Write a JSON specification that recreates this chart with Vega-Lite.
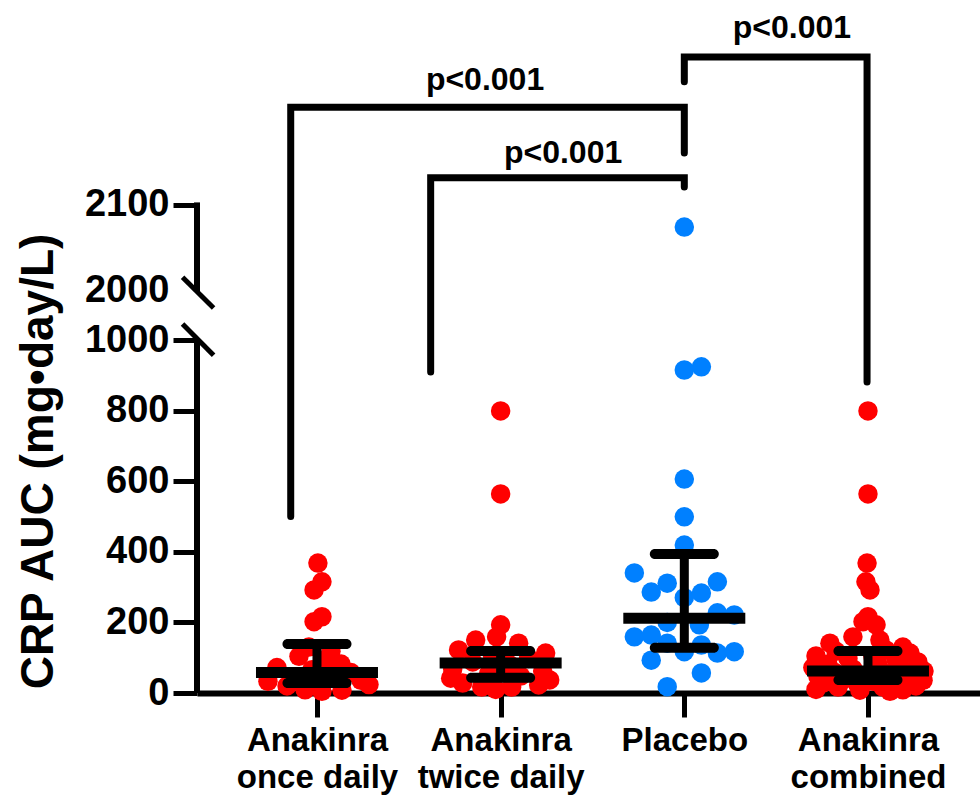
{
  "$schema": "https://vega.github.io/schema/vega-lite/v6.json",
  "width": 783,
  "height": 693,
  "autosize": {"type": "none"},
  "padding": {"left": 197, "top": 0, "right": 0, "bottom": 102},
  "background": "white",
  "config": {"view": {"stroke": null}, "font": "Liberation Sans"},
  "datasets": {
    "pts": [
      {"g":1,"t":"Anakinra","v":368,"dx":0.005},{"g":1,"t":"Anakinra","v":315,"dx":0.027},{"g":1,"t":"Anakinra","v":292,"dx":-0.016},
      {"g":1,"t":"Anakinra","v":216,"dx":0.027},{"g":1,"t":"Anakinra","v":202,"dx":-0.016},{"g":1,"t":"Anakinra","v":130,"dx":-0.044},
      {"g":1,"t":"Anakinra","v":118,"dx":0.076},{"g":1,"t":"Anakinra","v":104,"dx":-0.098},{"g":1,"t":"Anakinra","v":96,"dx":0.054},
      {"g":1,"t":"Anakinra","v":82,"dx":0.131},{"g":1,"t":"Anakinra","v":72,"dx":-0.218},{"g":1,"t":"Anakinra","v":66,"dx":-0.027},
      {"g":1,"t":"Anakinra","v":58,"dx":0.185},{"g":1,"t":"Anakinra","v":46,"dx":-0.131},{"g":1,"t":"Anakinra","v":33,"dx":-0.267},
      {"g":1,"t":"Anakinra","v":36,"dx":0.24},{"g":1,"t":"Anakinra","v":24,"dx":0.283},{"g":1,"t":"Anakinra","v":20,"dx":-0.163},
      {"g":1,"t":"Anakinra","v":9,"dx":-0.065},{"g":1,"t":"Anakinra","v":8,"dx":0.136},{"g":1,"t":"Anakinra","v":5,"dx":0.027},

      {"g":2,"t":"Anakinra","v":799,"dx":0},{"g":2,"t":"Anakinra","v":564,"dx":0},{"g":2,"t":"Anakinra","v":193,"dx":0},
      {"g":2,"t":"Anakinra","v":159,"dx":-0.022},{"g":2,"t":"Anakinra","v":150,"dx":-0.136},{"g":2,"t":"Anakinra","v":141,"dx":0.098},
      {"g":2,"t":"Anakinra","v":122,"dx":-0.229},{"g":2,"t":"Anakinra","v":113,"dx":0.245},{"g":2,"t":"Anakinra","v":105,"dx":-0.044},
      {"g":2,"t":"Anakinra","v":98,"dx":0.152},{"g":2,"t":"Anakinra","v":88,"dx":-0.152},{"g":2,"t":"Anakinra","v":82,"dx":0.044},
      {"g":2,"t":"Anakinra","v":68,"dx":-0.261},{"g":2,"t":"Anakinra","v":62,"dx":0.229},{"g":2,"t":"Anakinra","v":55,"dx":-0.065},
      {"g":2,"t":"Anakinra","v":48,"dx":0.109},{"g":2,"t":"Anakinra","v":42,"dx":-0.272},{"g":2,"t":"Anakinra","v":37,"dx":0.267},
      {"g":2,"t":"Anakinra","v":28,"dx":-0.207},{"g":2,"t":"Anakinra","v":23,"dx":0.207},{"g":2,"t":"Anakinra","v":17,"dx":-0.103},
      {"g":2,"t":"Anakinra","v":17,"dx":0.06},{"g":2,"t":"Anakinra","v":10,"dx":-0.027},

      {"g":3,"t":"Placebo","v":2074,"dx":0},{"g":3,"t":"Placebo","v":924,"dx":0.093},{"g":3,"t":"Placebo","v":915,"dx":0},
      {"g":3,"t":"Placebo","v":606,"dx":0},{"g":3,"t":"Placebo","v":499,"dx":0},{"g":3,"t":"Placebo","v":419,"dx":0},
      {"g":3,"t":"Placebo","v":340,"dx":-0.272},{"g":3,"t":"Placebo","v":315,"dx":0.18},{"g":3,"t":"Placebo","v":311,"dx":-0.093},
      {"g":3,"t":"Placebo","v":286,"dx":-0.18},{"g":3,"t":"Placebo","v":283,"dx":0.093},{"g":3,"t":"Placebo","v":270,"dx":0},
      {"g":3,"t":"Placebo","v":227,"dx":0.18},{"g":3,"t":"Placebo","v":221,"dx":0.272},{"g":3,"t":"Placebo","v":200,"dx":-0.093},
      {"g":3,"t":"Placebo","v":193,"dx":0.082},{"g":3,"t":"Placebo","v":164,"dx":-0.18},{"g":3,"t":"Placebo","v":159,"dx":-0.272},
      {"g":3,"t":"Placebo","v":141,"dx":-0.093},{"g":3,"t":"Placebo","v":136,"dx":0.093},{"g":3,"t":"Placebo","v":117,"dx":0},
      {"g":3,"t":"Placebo","v":117,"dx":0.272},{"g":3,"t":"Placebo","v":113,"dx":0.18},{"g":3,"t":"Placebo","v":93,"dx":-0.18},
      {"g":3,"t":"Placebo","v":57,"dx":0.093},{"g":3,"t":"Placebo","v":18,"dx":-0.093},

      {"g":4,"t":"Anakinra","v":799,"dx":0},{"g":4,"t":"Anakinra","v":564,"dx":0},{"g":4,"t":"Anakinra","v":368,"dx":-0.005},
      {"g":4,"t":"Anakinra","v":315,"dx":-0.011},{"g":4,"t":"Anakinra","v":292,"dx":0.011},{"g":4,"t":"Anakinra","v":216,"dx":0},
      {"g":4,"t":"Anakinra","v":202,"dx":-0.027},{"g":4,"t":"Anakinra","v":193,"dx":0.044},{"g":4,"t":"Anakinra","v":159,"dx":-0.082},
      {"g":4,"t":"Anakinra","v":150,"dx":0.065},{"g":4,"t":"Anakinra","v":141,"dx":-0.207},{"g":4,"t":"Anakinra","v":130,"dx":0.19},
      {"g":4,"t":"Anakinra","v":122,"dx":0.098},{"g":4,"t":"Anakinra","v":118,"dx":-0.174},{"g":4,"t":"Anakinra","v":113,"dx":0.229},
      {"g":4,"t":"Anakinra","v":105,"dx":-0.283},{"g":4,"t":"Anakinra","v":104,"dx":0.027},{"g":4,"t":"Anakinra","v":98,"dx":-0.109},
      {"g":4,"t":"Anakinra","v":96,"dx":0.152},{"g":4,"t":"Anakinra","v":88,"dx":0.272},{"g":4,"t":"Anakinra","v":82,"dx":-0.218},
      {"g":4,"t":"Anakinra","v":82,"dx":0.054},{"g":4,"t":"Anakinra","v":72,"dx":-0.3},{"g":4,"t":"Anakinra","v":68,"dx":-0.082},
      {"g":4,"t":"Anakinra","v":66,"dx":0.19},{"g":4,"t":"Anakinra","v":62,"dx":0.305},{"g":4,"t":"Anakinra","v":58,"dx":-0.18},
      {"g":4,"t":"Anakinra","v":55,"dx":0.098},{"g":4,"t":"Anakinra","v":48,"dx":-0.027},{"g":4,"t":"Anakinra","v":46,"dx":-0.272},
      {"g":4,"t":"Anakinra","v":42,"dx":0.218},{"g":4,"t":"Anakinra","v":37,"dx":-0.136},{"g":4,"t":"Anakinra","v":36,"dx":0.3},
      {"g":4,"t":"Anakinra","v":33,"dx":0.027},{"g":4,"t":"Anakinra","v":28,"dx":-0.245},{"g":4,"t":"Anakinra","v":24,"dx":0.152},
      {"g":4,"t":"Anakinra","v":23,"dx":-0.054},{"g":4,"t":"Anakinra","v":20,"dx":0.261},{"g":4,"t":"Anakinra","v":17,"dx":-0.163},
      {"g":4,"t":"Anakinra","v":17,"dx":0.082},{"g":4,"t":"Anakinra","v":10,"dx":-0.283},{"g":4,"t":"Anakinra","v":9,"dx":0.19},
      {"g":4,"t":"Anakinra","v":8,"dx":-0.044},{"g":4,"t":"Anakinra","v":5,"dx":0.12}
    ],
    "stats": [
      {"g":1,"med":58,"q1":28,"q3":139},
      {"g":2,"med":85,"q1":43,"q3":119},
      {"g":3,"med":212,"q1":128,"q3":394},
      {"g":4,"med":62,"q1":37,"q3":119}
    ],
    "brackets": [
      {"b":1,"o":1,"x":0.857,"y":500},{"b":1,"o":2,"x":0.857,"y":2215},{"b":1,"o":3,"x":3.0,"y":2215},{"b":1,"o":4,"x":3.0,"y":2161},
      {"b":2,"o":1,"x":1.619,"y":909},{"b":2,"o":2,"x":1.619,"y":2132},{"b":2,"o":3,"x":3.0,"y":2132},{"b":2,"o":4,"x":3.0,"y":2121},
      {"b":3,"o":1,"x":3.0,"y":2245},{"b":3,"o":2,"x":3.0,"y":2274},{"b":3,"o":3,"x":3.995,"y":2274},{"b":3,"o":4,"x":3.995,"y":881}
    ],
    "plabels": [
      {"x":1.915,"y":2235,"label":"p<0.001"},
      {"x":2.34,"y":2149,"label":"p<0.001"},
      {"x":3.586,"y":2296,"label":"p<0.001"}
    ],
    "yline": [
      {"x":0.3467,"y":0,"y2":1000},
      {"x":0.3467,"y":1960,"y2":2103}
    ],
    "breaks": [
      {"x":0.268,"x2":0.437,"y":2015,"y2":1640},
      {"x":0.268,"x2":0.437,"y":1320,"y2":957}
    ]
  },
  "layer": [
    {
      "data": {"name": "pts"},
      "transform": [{"calculate": "datum.g + datum.dx", "as": "xp"}],
      "mark": {"type": "circle", "size": 380, "opacity": 1},
      "encoding": {
        "x": {
          "field": "xp", "type": "quantitative", "title": null,
          "scale": {"domain": [0.3467, 4.61], "nice": false, "zero": false},
          "axis": {
            "values": [1, 2, 3, 4], "grid": false, "domain": true, "domainWidth": 6, "domainColor": "black",
            "ticks": true, "tickSize": 24, "tickWidth": 5, "tickColor": "black",
            "labelFont": "Liberation Sans", "labelFontSize": 33, "labelFontWeight": "bold", "labelColor": "black",
            "labelBaseline": "alphabetic", "labelPadding": 33, "labelLineHeight": 37,
            "labelFlush": false, "labelOverlap": false, "labelBound": false,
            "labelExpr": "datum.value == 1 ? ['Anakinra', 'once daily'] : datum.value == 2 ? ['Anakinra', 'twice daily'] : datum.value == 3 ? 'Placebo' : ['Anakinra', 'combined']",
            "title": null
          }
        },
        "y": {
          "field": "v", "type": "quantitative", "title": "CRP AUC (mg•day/L)",
          "scale": {"domain": [0, 1000, 2000, 2341], "range": [693, 340, 290, 0], "nice": false, "zero": false},
          "axis": {
            "values": [0, 200, 400, 600, 800, 1000, 2000, 2100], "format": "d", "grid": false, "domain": false,
            "ticks": true, "tickSize": 24, "tickWidth": 5,
            "tickColor": {"condition": {"test": "datum.value == 2000", "value": "transparent"}, "value": "black"},
            "labelFont": "Liberation Sans", "labelFontSize": 38, "labelFontWeight": "bold", "labelColor": "black",
            "labelPadding": 4, "labelOverlap": false, "labelFlush": false, "labelBound": false,
            "title": "CRP AUC (mg•day/L)", "titleFont": "Liberation Sans", "titleFontSize": 46, "titleFontWeight": "bold",
            "titleColor": "black", "titleAngle": -90, "titleX": -145, "titleY": 461, "titleAlign": "center", "titleBaseline": "alphabetic"
          }
        },
        "color": {"field": "t", "type": "nominal", "scale": {"domain": ["Anakinra", "Placebo"], "range": ["#FF0000", "#0080FF"]}, "legend": null}
      }
    },
    {
      "data": {"name": "stats"},
      "mark": {"type": "tick", "orient": "horizontal", "size": 122, "thickness": 11, "color": "black", "opacity": 1},
      "encoding": {
        "x": {"field": "g", "type": "quantitative", "title": null},
        "y": {"field": "med", "type": "quantitative", "title": "CRP AUC (mg•day/L)"}
      }
    },
    {
      "data": {"name": "stats"},
      "mark": {"type": "tick", "orient": "horizontal", "size": 69, "thickness": 10, "cornerRadius": 5, "color": "black", "opacity": 1},
      "encoding": {
        "x": {"field": "g", "type": "quantitative", "title": null},
        "y": {"field": "q1", "type": "quantitative", "title": "CRP AUC (mg•day/L)"}
      }
    },
    {
      "data": {"name": "stats"},
      "mark": {"type": "tick", "orient": "horizontal", "size": 69, "thickness": 10, "cornerRadius": 5, "color": "black", "opacity": 1},
      "encoding": {
        "x": {"field": "g", "type": "quantitative", "title": null},
        "y": {"field": "q3", "type": "quantitative", "title": "CRP AUC (mg•day/L)"}
      }
    },
    {
      "data": {"name": "stats"},
      "mark": {"type": "rule", "strokeWidth": 9, "color": "black"},
      "encoding": {
        "x": {"field": "g", "type": "quantitative", "title": null},
        "y": {"field": "q1", "type": "quantitative", "title": "CRP AUC (mg•day/L)"},
        "y2": {"field": "q3"}
      }
    },
    {
      "data": {"name": "brackets"},
      "mark": {"type": "line", "strokeWidth": 7, "color": "black", "strokeCap": "round", "strokeJoin": "miter"},
      "encoding": {
        "x": {"field": "x", "type": "quantitative", "title": null},
        "y": {"field": "y", "type": "quantitative", "title": "CRP AUC (mg•day/L)"},
        "detail": {"field": "b"},
        "order": {"field": "o"}
      }
    },
    {
      "data": {"name": "plabels"},
      "mark": {"type": "text", "font": "Liberation Sans", "fontSize": 32, "fontWeight": "bold", "align": "center", "baseline": "alphabetic", "color": "black"},
      "encoding": {
        "x": {"field": "x", "type": "quantitative", "title": null},
        "y": {"field": "y", "type": "quantitative", "title": "CRP AUC (mg•day/L)"},
        "text": {"field": "label"}
      }
    },
    {
      "data": {"name": "yline"},
      "mark": {"type": "rule", "strokeWidth": 6, "color": "black"},
      "encoding": {
        "x": {"field": "x", "type": "quantitative", "title": null},
        "y": {"field": "y", "type": "quantitative", "title": "CRP AUC (mg•day/L)"},
        "y2": {"field": "y2"}
      }
    },
    {
      "data": {"name": "breaks"},
      "mark": {"type": "rule", "strokeWidth": 5, "color": "black"},
      "encoding": {
        "x": {"field": "x", "type": "quantitative", "title": null},
        "x2": {"field": "x2"},
        "y": {"field": "y", "type": "quantitative", "title": "CRP AUC (mg•day/L)"},
        "y2": {"field": "y2"}
      }
    }
  ]
}
